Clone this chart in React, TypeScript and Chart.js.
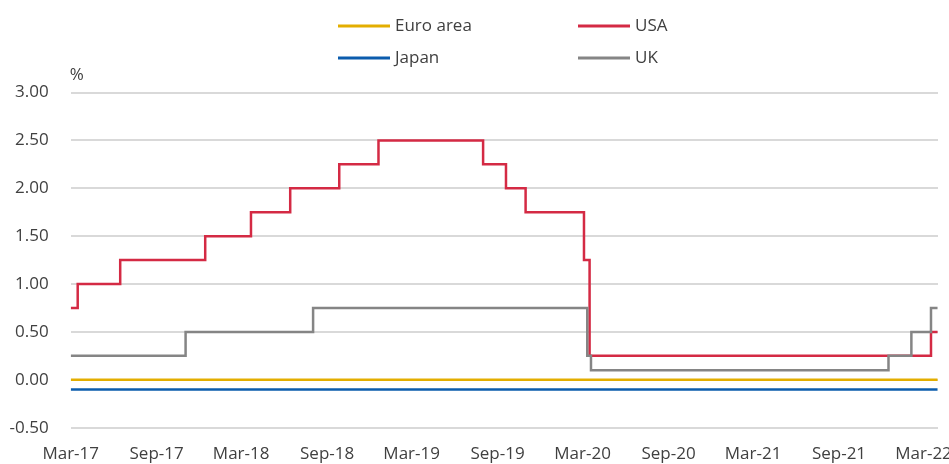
import React, { useEffect, useRef } from "react";
import { Chart, registerables } from "chart.js";

Chart.register(...registerables);

// ---- Data ----
const seriesNames = ["Euro area", "USA", "Japan", "UK"];

const euroDates = ["2017-03-01", "2022-03-31"];
const euroRates = [0.0, 0.0];

const japanDates = ["2017-03-01", "2022-03-31"];
const japanRates = [-0.1, -0.1];

const usaDates = [
  "2017-03-01", "2017-03-16", "2017-06-15", "2017-12-14", "2018-03-22",
  "2018-06-14", "2018-09-27", "2018-12-20", "2019-08-01", "2019-09-19",
  "2019-10-31", "2020-03-04", "2020-03-16", "2022-03-17", "2022-03-31",
];
const usaRates = [
  0.75, 1.0, 1.25, 1.5, 1.75,
  2.0, 2.25, 2.5, 2.25, 2.0,
  1.75, 1.25, 0.25, 0.5, 0.5,
];

const ukDates = [
  "2017-03-01", "2017-11-02", "2018-08-02", "2020-03-11", "2020-03-19",
  "2021-12-16", "2022-02-03", "2022-03-17", "2022-03-31",
];
const ukRates = [0.25, 0.5, 0.75, 0.25, 0.1, 0.25, 0.5, 0.75, 0.75];

const tickDates = [
  "2017-03-01", "2017-09-01", "2018-03-01", "2018-09-01", "2019-03-01",
  "2019-09-01", "2020-03-01", "2020-09-01", "2021-03-01", "2021-09-01",
  "2022-03-01",
];
const tickLabels = [
  "Mar-17", "Sep-17", "Mar-18", "Sep-18", "Mar-19",
  "Sep-19", "Mar-20", "Sep-20", "Mar-21", "Sep-21", "Mar-22",
];

const axisStart = "2017-03-01";
const axisEnd = "2022-04-01";
const yMin = -0.5;
const yMax = 3.0;
const yStep = 0.5;
const yUnit = "%";

// ---- Styles ----
const FONT = "'Open Sans', 'Noto Sans', sans-serif";
const TEXT = "#404040";
const colors: Record<string, string> = {
  "Euro area": "#E3AE00",
  USA: "#D42A44",
  Japan: "#0B5CAD",
  UK: "#858585",
};

const START_MS = Date.UTC(2017, 2, 1);
const dayNum = (s: string) => {
  const [y, m, d] = s.split("-").map(Number);
  return (Date.UTC(y, m - 1, d) - START_MS) / 86400000;
};
const toPoints = (dates: string[], vals: number[]) =>
  dates.map((d, i) => ({ x: dayNum(d), y: vals[i] }));

const legendPlugin = {
  id: "customLegend",
  afterDraw(chart: any) {
    const ctx = chart.ctx;
    ctx.save();
    const cols = [338, 578];
    const rows = [26, 58];
    seriesNames.forEach((name, i) => {
      const x = cols[i % 2];
      const y = rows[Math.floor(i / 2)];
      ctx.strokeStyle = colors[name];
      ctx.lineWidth = 3;
      ctx.beginPath();
      ctx.moveTo(x, y);
      ctx.lineTo(x + 52, y);
      ctx.stroke();
      ctx.fillStyle = TEXT;
      ctx.font = `17px ${FONT}`;
      ctx.textAlign = "left";
      ctx.textBaseline = "middle";
      ctx.fillText(name, x + 57, y);
    });
    ctx.fillText(yUnit, chart.chartArea.left - 1, 75);
    ctx.restore();
  },
};

export default function App() {
  const ref = useRef<HTMLCanvasElement | null>(null);

  useEffect(() => {
    if (!ref.current) return;
    const mk = (name: string, dates: string[], vals: number[]) => ({
      label: name,
      data: toPoints(dates, vals),
      borderColor: colors[name],
      backgroundColor: colors[name],
      borderWidth: 2.5,
      pointRadius: 0,
      stepped: "before" as const,
      fill: false,
    });
    const chart = new Chart(ref.current, {
      type: "line",
      data: {
        datasets: [
          mk("UK", ukDates, ukRates),
          mk("USA", usaDates, usaRates),
          mk("Euro area", euroDates, euroRates),
          mk("Japan", japanDates, japanRates),
        ],
      },
      options: {
        responsive: false,
        animation: false,
        layout: { padding: { top: 92.5, right: 11, left: 0, bottom: 0 } },
        plugins: { legend: { display: false }, tooltip: { enabled: false } },
        scales: {
          x: {
            type: "linear",
            min: dayNum(axisStart),
            max: dayNum(axisEnd),
            grid: { display: false, drawTicks: false },
            border: { display: false },
            afterBuildTicks: (scale: any) => {
              scale.ticks = tickDates.map((d) => ({ value: dayNum(d) }));
            },
            afterFit: (scale: any) => {
              scale.height = 36.3;
              scale.paddingLeft = 0;
              scale.paddingRight = 0;
            },
            ticks: {
              autoSkip: false,
              maxRotation: 0,
              minRotation: 0,
              padding: 16,
              color: TEXT,
              font: { family: FONT, size: 17 },
              callback: (_v: any, i: number) => tickLabels[i],
            },
          },
          y: {
            min: yMin,
            max: yMax,
            grid: { color: "#d9d9d9", lineWidth: 2, drawTicks: false },
            border: { display: false },
            afterFit: (scale: any) => {
              scale.width = 70.7;
              scale.paddingTop = 0;
              scale.paddingBottom = 0;
            },
            ticks: {
              stepSize: yStep,
              padding: 22,
              color: TEXT,
              font: { family: FONT, size: 17 },
              callback: (v: any) => Number(v).toFixed(2),
            },
          },
        },
      },
      plugins: [legendPlugin],
    });
    return () => chart.destroy();
  }, []);

  return (
    <div style={{ position: "fixed", left: 0, top: 0, width: 949, height: 464, background: "#fff" }}>
      <canvas ref={ref} width={949} height={464} style={{ display: "block" }} />
    </div>
  );
}
